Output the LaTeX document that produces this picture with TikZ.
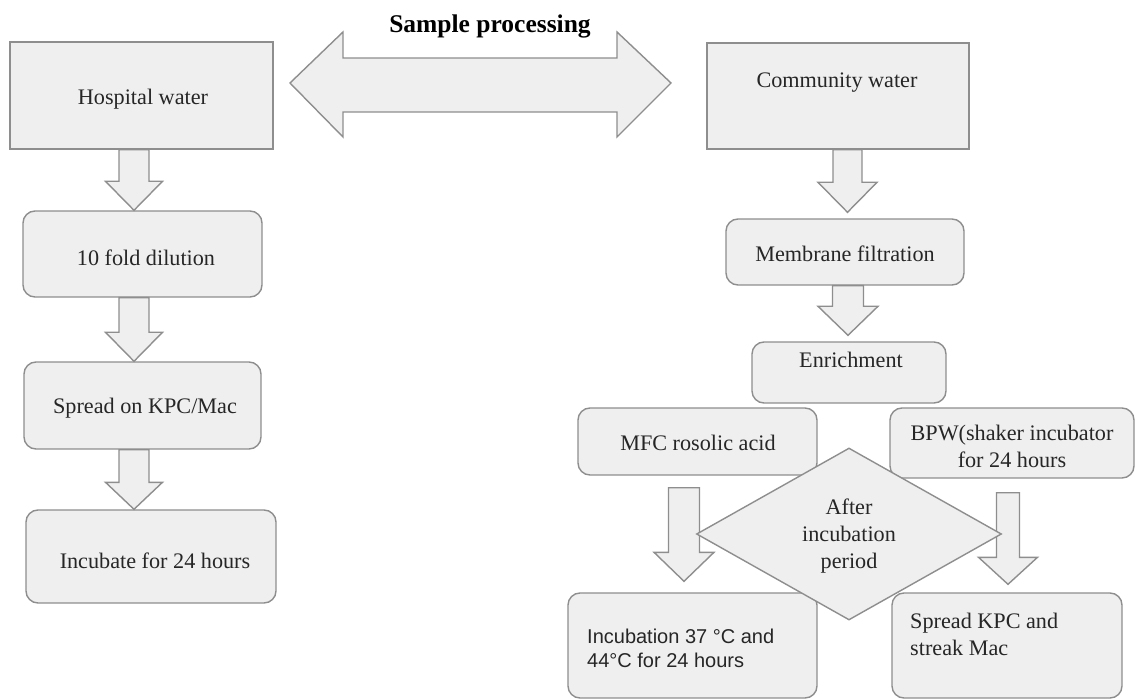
\documentclass[tikz,border=0pt]{standalone}
\usepackage{fontspec}
\setmainfont{Liberation Serif}
\newfontfamily\arialf{Liberation Sans}
\usetikzlibrary{shapes.geometric,calc}
\definecolor{boxfill}{HTML}{EFEFEF}
\definecolor{boxline}{HTML}{8E8E8E}
\definecolor{txt}{HTML}{262626}
\tikzset{
  base/.style={draw=boxline, fill=boxfill, line width=1.4pt, inner sep=0pt, text=txt,
    font=\fontsize{22.2}{27}\selectfont, align=center},
  sqbox/.style={base, rectangle},
  rbox/.style={base, rectangle, rounded corners=12pt},
  dia/.style={base, diamond, shape aspect=1.77},
  blk/.style={draw=boxline, fill=boxfill, line width=1.4pt, line join=miter},
  plain/.style={inner sep=0pt, text=txt, font=\fontsize{22.2}{27}\selectfont, align=left},
}
\newcommand{\blkdn}[5]{%
  \draw[blk] let \p1=(#1), \p2=(#2) in
   (\x2-#3pt,\y1) -- (\x2+#3pt,\y1) -- (\x2+#3pt,\y2+#5pt) -- (\x2+#4pt,\y2+#5pt)
   -- (\x2,\y2) -- (\x2-#4pt,\y2+#5pt) -- (\x2-#3pt,\y2+#5pt) -- cycle;}
\begin{document}
\begin{tikzpicture}[x=1pt,y=-1pt]
\useasboundingbox (0,0) rectangle (1135,700);
% title
\node[inner sep=0pt, anchor=base, font=\fontsize{25.5}{30}\selectfont\bfseries] (title) at (490,33) {Sample processing};
% double arrow
\coordinate (dl) at (290,83);
\coordinate (dr) at (671,83);
\draw[blk] (dl) -- (343,32) -- (343,58) -- (617,58) -- (617,32) -- (dr) -- (617,137) -- (617,112) -- (343,112) -- (343,137) -- cycle;
% left column
\node[sqbox, minimum width=263, minimum height=107] (hosp) at (141.5,95.5) {};
\node[plain] (hospt) at (143,99) {Hospital water};
\node[rbox, minimum width=239, minimum height=86] (dil) at (142.5,254) {};
\node[plain] (dilt) at (146,258) {10 fold dilution};
\node[rbox, minimum width=237, minimum height=87] (spread) at (142.5,405.5) {};
\node[plain] (spreadt) at (145,408) {Spread on KPC/Mac};
\node[rbox, minimum width=250, minimum height=93] (incub) at (151,556.5) {};
\node[plain] (incubt) at (155,561) {Incubate for 24 hours};
\blkdn{hosp.south}{$(dil.north)+(-8.5,0)$}{15}{28.5}{29}
\blkdn{dil.south}{$(spread.north)+(-8.5,0)$}{15}{28.5}{29}
\blkdn{spread.south}{$(incub.north)+(-17,0)$}{15}{28.5}{27}
% right column
\node[sqbox, minimum width=262, minimum height=106] (comm) at (838,96) {};
\node[plain] (commt) at (837,83) {Community water};
\node[rbox, minimum width=238, minimum height=66] (memb) at (845,252) {};
\node[plain] (membt) at (845,254) {Membrane filtration};
\node[rbox, minimum width=194, minimum height=61] (enr) at (849,372.5) {};
\node[plain] (enrt) at (851,360) {Enrichment};
\blkdn{comm.south}{$(memb.north)+(2.5,-6)$}{14.5}{29.5}{30}
\blkdn{memb.south}{$(enr.north)+(-1,-6)$}{15.5}{30}{29}
\node[rbox, minimum width=239, minimum height=67] (mfc) at (697.5,441.5) {};
\node[plain] (mfct) at (698,443) {MFC rosolic acid};
\node[rbox, minimum width=244, minimum height=70] (bpw) at (1012,443) {};
\node[plain, align=center] (bpwt) at (1012,446) {BPW(shaker incubator\\for 24 hours};
\node[rbox, minimum width=249, minimum height=105] (incu2) at (692.5,645.5) {};
\node[plain, anchor=west, font=\arialf\fontsize{20}{24}\selectfont] (incu2t) at (587,648) {Incubation 37 °C and\\44°C for 24 hours};
\node[rbox, minimum width=230, minimum height=105] (spr2) at (1007,645.5) {};
\node[plain, anchor=west] (spr2t) at (910,634) {Spread KPC and\\streak Mac};
\blkdn{$(mfc.south)+(0,12)$}{$(incu2.north)+(-8.5,-11)$}{15.5}{30}{29}
\blkdn{$(bpw.south)+(0,14)$}{$(spr2.north)+(1,-8)$}{11.5}{29.5}{27}
% decision diamond on top
\node[dia, minimum width=305, minimum height=172] (after) at (849,534) {};
\node[plain, align=center] (aftert) at (849,536) {After\\incubation\\period};
\end{tikzpicture}
\end{document}
